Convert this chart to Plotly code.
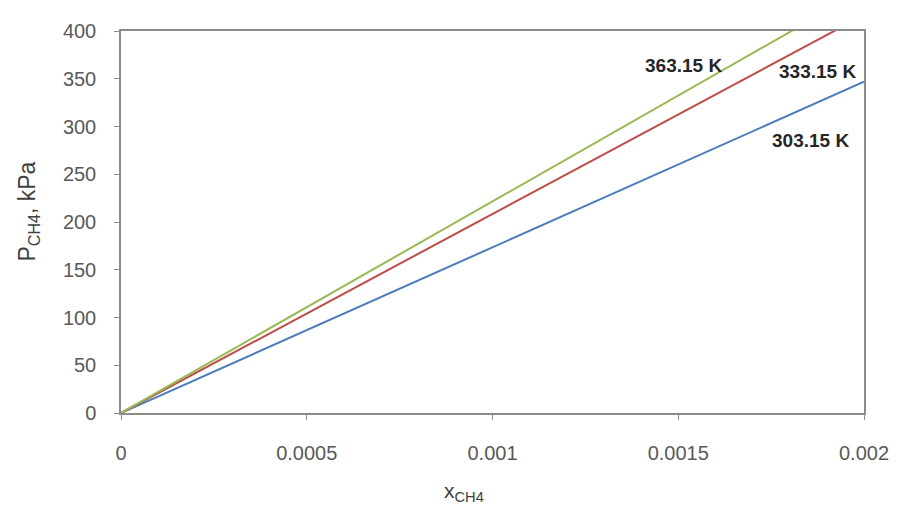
import plotly.graph_objects as go

# Data
x_vals = [0, 0.0005, 0.001, 0.0015, 0.002]
p_303 = [0, 86.8, 173.5, 260.3, 347]
p_333 = [0, 104.2, 208.3, 312.5, 416.7]
p_363 = [0, 110.8, 221.6, 332.4, 443.2]
series_names = ["303.15 K", "333.15 K", "363.15 K"]
label_x = [0.001856, 0.001875, 0.001513]
label_y = [285, 358, 364]
x_ticks = [0, 0.0005, 0.001, 0.0015, 0.002]
x_tick_text = ["0", "0.0005", "0.001", "0.0015", "0.002"]
y_ticks = [0, 50, 100, 150, 200, 250, 300, 350, 400]

colors = ["#4a7ebb", "#be4b48", "#98b954"]
series = [p_303, p_333, p_363]

fig = go.Figure()
for name, ys, c in zip(series_names, series, colors):
    fig.add_trace(go.Scatter(x=x_vals, y=ys, mode="lines", name=name,
                             line=dict(color=c, width=2), showlegend=False))

for name, lx, ly in zip(series_names, label_x, label_y):
    fig.add_annotation(x=lx, y=ly, text="<b>" + name + "</b>", showarrow=False,
                       font=dict(family="Liberation Sans", size=19, color="#262626"))

# axis titles
fig.add_annotation(xref="paper", yref="paper", x=-0.124, y=0.527,
                   text="P<sub>CH4</sub>, kPa", textangle=-90, showarrow=False,
                   xanchor="center", yanchor="middle",
                   font=dict(family="Liberation Sans", size=23, color="#404040"))
fig.add_annotation(xref="paper", yref="paper", x=0.462, y=-0.207,
                   text="x<sub>CH4</sub>", showarrow=False,
                   xanchor="center", yanchor="middle",
                   font=dict(family="Liberation Sans", size=21, color="#404040"))

axis_font = dict(family="Liberation Sans", size=20, color="#595959")
fig.update_layout(
    width=893, height=503,
    margin=dict(l=113, r=31, t=14, b=98),
    paper_bgcolor="white", plot_bgcolor="white",
    font=axis_font,
    xaxis=dict(range=[0, 0.002], tickvals=x_ticks, ticktext=x_tick_text,
               showgrid=False, zeroline=False, showline=True, linecolor="#8c8c8c",
               linewidth=1.5, mirror=True, ticks="outside", ticklen=5, tickcolor="#8c8c8c",
               ticklabelstandoff=16, tickfont=axis_font),
    yaxis=dict(range=[0, 400], tickvals=y_ticks,
               showgrid=False, zeroline=False, showline=True, linecolor="#8c8c8c",
               linewidth=1.5, mirror=True, ticks="outside", ticklen=5, tickcolor="#8c8c8c",
               ticklabelstandoff=14, tickfont=axis_font),
)

fig.write_html("out.html")
